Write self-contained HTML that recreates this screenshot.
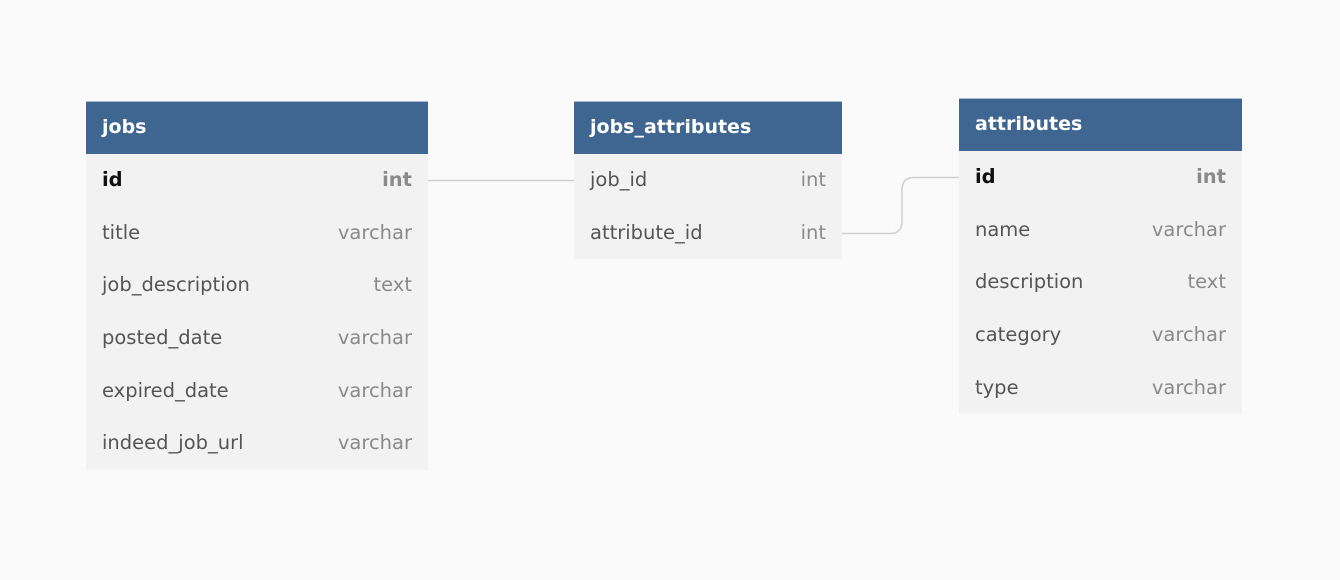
<!DOCTYPE html>
<html><head><meta charset="utf-8"><style>
body{margin:0;width:1340px;height:580px;background:#fafafa;font-family:"DejaVu Sans","Liberation Sans",sans-serif;position:relative;overflow:hidden}
.t{position:absolute;background:#f2f2f2}
.h{height:53px;background:#3f6690;color:#fff;font-weight:bold;font-size:19px;line-height:51px;padding-left:16px;box-sizing:border-box;border-top:1px solid #a9bcd0}
.r{height:52.7px;line-height:52.7px;font-size:19.5px;color:#555;padding:0 16px;display:flex;justify-content:space-between}
.r span:last-child{color:#8a8a8a}
.r.pk span:first-child{color:#111;font-weight:bold}
.r.pk span:last-child{font-weight:bold}
svg{position:absolute;left:0;top:0}
</style></head><body>
<svg width="1340" height="580">
<path d="M428 180.5 H574" stroke="#cfcfcf" stroke-width="1.5" fill="none"/>
<path d="M842 233.5 H890 Q902 233.5 902 221 V190 Q902 177.5 914 177.5 H959" stroke="#cfcfcf" stroke-width="1.5" fill="none"/>
</svg>
<div class="t" style="left:86px;top:101px;width:342px">
<div class="h">jobs</div>
<div class="r pk"><span>id</span><span>int</span></div>
<div class="r"><span>title</span><span>varchar</span></div>
<div class="r"><span>job_description</span><span>text</span></div>
<div class="r"><span>posted_date</span><span>varchar</span></div>
<div class="r"><span>expired_date</span><span>varchar</span></div>
<div class="r"><span>indeed_job_url</span><span>varchar</span></div>
</div>
<div class="t" style="left:574px;top:101px;width:268px">
<div class="h">jobs_attributes</div>
<div class="r"><span>job_id</span><span>int</span></div>
<div class="r"><span>attribute_id</span><span>int</span></div>
</div>
<div class="t" style="left:959px;top:98px;width:283px">
<div class="h">attributes</div>
<div class="r pk"><span>id</span><span>int</span></div>
<div class="r"><span>name</span><span>varchar</span></div>
<div class="r"><span>description</span><span>text</span></div>
<div class="r"><span>category</span><span>varchar</span></div>
<div class="r"><span>type</span><span>varchar</span></div>
</div>
</body></html>
